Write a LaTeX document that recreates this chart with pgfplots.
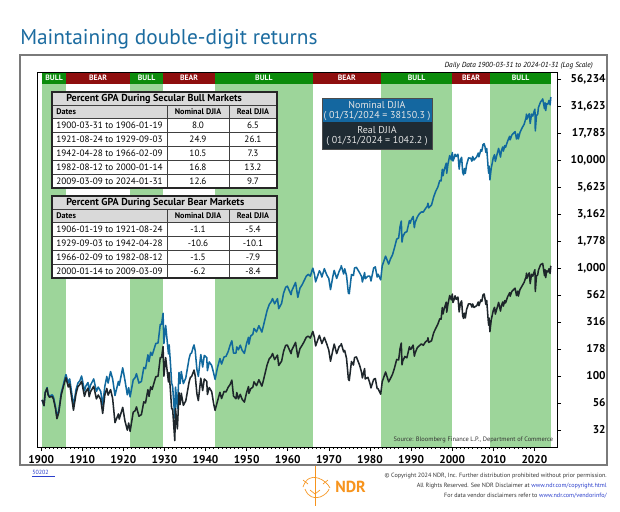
\documentclass[border=0pt]{standalone}
\usepackage{fontspec}
\setmainfont{PT Sans}
\usepackage{pgfplots}
\pgfplotsset{compat=1.18}
\usepackage{pgfplotstable}
\definecolor{titleblue}{HTML}{1C6CA0}
\definecolor{nomblue}{HTML}{11699E}
\definecolor{realblk}{HTML}{1E262B}
\definecolor{bandgreen}{HTML}{9DD59A}
\definecolor{stripgreen}{HTML}{0B8B0B}
\definecolor{stripred}{HTML}{8E0E0E}
\definecolor{legblue}{HTML}{1467A0}
\definecolor{legdark}{HTML}{1F2B33}
\definecolor{tblgray}{HTML}{D9D9D9}
\definecolor{framegray}{HTML}{7A7A7A}
\definecolor{ndrorange}{HTML}{F7941D}
\definecolor{linkblue}{HTML}{2B3FCC}

\pgfplotstableread{
year nom real
1900.25 60 60.2
1900.7 53 53.2
1901.0 70 70.2
1901.45 78 77.2
1901.7 68 67.0
1902.0 65 63.7
1902.7 67 64.6
1903.0 64 61.2
1903.5 52 49.8
1903.85 42 40.2
1904.3 48 45.9
1904.9 70 67.0
1905.3 80 76.6
1905.8 96 90.2
1906.05 103 96.3
1906.6 86 79.1
1906.95 94 84.4
1907.3 76 68.1
1907.87 53 48.2
1908.5 75 68.7
1908.95 86 79.6
1909.4 90 83.3
1909.85 100 89.3
1910.55 73 64.8
1910.9 81 71.8
1911.4 87 77.2
1911.7 73 64.3
1912.0 82 71.3
1912.8 94 80.4
1913.45 72 61.3
1913.9 79 66.7
1914.5 72 60.7
1914.98 54 45.0
1915.5 80 66.7
1915.98 99 76.7
1916.3 86 66.5
1916.9 110 74.8
1917.4 94 61.9
1917.97 66 37.0
1918.8 89 44.5
1919.0 82 39.9
1919.85 119 51.2
1920.4 91 38.3
1920.97 67 31.5
1921.3 78 36.7
1921.65 64 30.7
1922.4 92 46.1
1922.9 97 47.9
1923.2 105 51.8
1923.8 86 42.4
1924.4 89 43.9
1924.98 120 57.7
1925.4 117 56.3
1925.98 157 74.7
1926.25 136 64.7
1926.65 166 79.3
1927.0 155 75.0
1927.9 200 98.4
1928.45 202 99.6
1928.98 300 147.9
1929.3 300 147.9
1929.67 381 187.8
1929.87 199 99.5
1930.3 294 148.2
1930.98 160 88.0
1931.15 194 107.5
1931.5 125 69.3
1931.75 86 49.9
1932.0 80 49.2
1932.52 41 25.2
1932.7 79 49.8
1933.15 50 32.4
1933.55 108 70.0
1933.8 85 54.4
1934.1 110 69.2
1934.6 85 53.5
1935.2 96 59.0
1935.98 144 87.3
1936.3 160 97.0
1936.6 163 98.8
1936.98 184 107.6
1937.2 194 113.5
1937.5 170 99.5
1937.9 115 68.4
1938.25 99 59.2
1938.85 158 95.4
1939.3 121 73.3
1939.7 155 93.9
1940.3 148 89.1
1940.45 112 67.4
1940.9 135 78.3
1941.5 125 71.6
1941.98 106 55.1
1942.32 93 48.1
1942.9 119 58.3
1943.5 145 70.6
1943.9 129 61.9
1944.5 150 71.9
1944.98 152 71.1
1945.5 168 78.6
1945.98 193 83.4
1946.4 212 91.6
1946.8 163 65.2
1947.4 163 61.6
1947.6 186 70.3
1948.0 175 61.3
1948.45 193 67.6
1948.9 173 60.9
1949.45 162 57.3
1949.98 200 70.0
1950.45 228 79.8
1950.55 197 69.0
1950.98 235 76.1
1951.5 243 78.7
1951.8 276 88.3
1952.4 256 81.4
1952.98 292 92.3
1953.7 255 80.6
1953.98 281 88.0
1954.5 340 106.4
1954.98 404 126.9
1955.5 460 144.4
1955.98 488 151.3
1956.3 521 161.5
1956.8 466 142.1
1957.5 520 156.0
1957.8 420 125.2
1958.5 470 137.0
1958.98 584 169.1
1959.5 664 192.2
1959.9 679 193.5
1960.8 566 161.1
1960.98 616 173.6
1961.9 734 204.8
1962.45 535 149.3
1962.98 652 179.5
1963.5 700 192.7
1963.98 763 207.4
1964.5 840 228.3
1964.98 874 233.8
1965.5 840 224.7
1965.98 969 251.9
1966.11 995 258.7
1966.5 870 226.2
1966.78 744 189.7
1967.7 943 237.8
1967.98 905 219.1
1968.3 825 199.7
1968.9 985 227.5
1969.5 860 197.5
1969.98 800 173.7
1970.4 631 137.0
1970.98 838 174.3
1971.3 950 197.6
1971.9 800 161.3
1972.5 930 187.5
1972.98 1020 193.8
1973.02 1051 199.5
1973.6 880 167.0
1973.85 985 172.4
1974.3 850 145.3
1974.75 585 93.6
1974.96 578 90.7
1975.5 870 136.2
1975.98 852 126.2
1976.25 1000 148.1
1976.7 1014 150.2
1977.5 900 125.1
1977.98 830 107.2
1978.15 742 95.9
1978.7 907 117.2
1978.85 795 93.8
1979.5 840 97.4
1979.98 839 85.7
1980.25 759 77.6
1980.9 1000 93.0
1981.3 1024 94.9
1981.75 824 76.4
1981.98 875 76.4
1982.61 777 67.8
1982.98 1046 88.5
1983.8 1287 108.9
1984.55 1087 88.2
1984.98 1212 94.9
1985.5 1330 104.1
1985.98 1547 119.0
1986.5 1850 142.3
1986.98 1896 140.7
1987.3 2400 178.1
1987.62 2722 202.0
1987.8 1738 126.9
1987.98 1939 138.1
1988.5 2130 151.7
1988.98 2169 147.3
1989.6 2750 186.7
1989.8 2600 176.5
1989.98 2753 177.6
1990.5 2999 193.4
1990.8 2365 152.5
1990.98 2634 163.0
1991.5 2950 182.6
1991.98 3169 190.1
1992.5 3300 198.0
1992.98 3301 192.5
1993.5 3550 207.0
1993.98 3754 213.2
1994.1 3978 225.9
1994.3 3600 204.5
1994.98 3834 212.0
1995.5 4550 251.6
1995.98 5117 274.8
1996.5 5600 300.7
1996.98 6448 338.5
1997.3 6400 336.0
1997.6 8200 430.5
1997.8 7160 375.9
1997.98 7908 408.8
1998.55 9338 482.8
1998.67 7539 389.8
1998.98 9181 464.6
1999.4 11000 556.6
1999.8 10000 506.0
1999.98 11497 562.2
2000.04 11722 573.2
2000.2 9796 479.0
2000.5 10500 513.5
2000.7 11300 552.6
2000.98 10788 513.5
2001.4 11300 537.9
2001.7 8236 392.0
2001.98 10022 469.0
2002.3 10600 496.1
2002.55 7702 360.5
2002.78 7286 341.0
2002.98 8342 382.1
2003.2 7524 344.6
2003.5 9000 412.2
2003.98 10454 466.2
2004.5 10400 463.8
2004.8 9750 434.9
2004.98 10783 464.7
2005.3 10000 431.0
2005.98 10718 448.0
2006.35 11600 484.9
2006.5 10700 447.3
2006.98 12463 506.0
2007.2 12050 489.2
2007.5 13900 564.3
2007.78 14164 575.1
2007.98 13265 518.7
2008.2 11740 459.0
2008.4 12800 500.5
2008.75 8500 332.4
2008.88 7552 295.3
2008.98 8776 344.9
2009.18 6547 257.3
2009.5 8400 330.1
2009.98 10428 402.5
2010.3 11200 432.3
2010.5 9700 374.4
2010.98 11577 434.1
2011.3 12800 480.0
2011.75 10655 399.6
2011.98 12218 448.4
2012.3 13200 484.4
2012.45 12100 444.1
2012.8 13600 499.1
2012.98 13104 474.4
2013.5 15000 543.0
2013.98 16576 590.1
2014.1 15372 547.2
2014.5 17000 605.2
2014.98 17823 632.7
2015.3 18300 649.7
2015.65 15666 556.1
2015.98 17425 611.6
2016.1 15660 549.7
2016.5 18000 631.8
2016.98 19763 679.8
2017.5 21400 736.2
2017.98 24719 830.6
2018.07 26616 894.3
2018.15 23860 801.7
2018.75 26828 901.4
2018.98 21792 717.0
2019.3 26600 875.1
2019.6 25500 839.0
2019.98 28538 930.3
2020.13 29551 963.4
2020.22 18592 606.1
2020.5 25800 841.1
2020.8 26500 863.9
2020.98 30606 951.8
2021.5 34500 1073.0
2021.98 36338 1097.0
2022.02 36799 1104.0
2022.45 29888 850.6
2022.6 33900 964.8
2022.75 28725 814.9
2022.98 33147 940.4
2023.3 32900 917.9
2023.55 35600 983.3
2023.82 32417 889.5
2023.98 37690 1035.3
2024.08 38150 1042.2
}\djia

\begin{document}
\begin{tikzpicture}
\useasboundingbox (0,0) rectangle (465pt,-383.25pt);
\fill[white] (0,0) rectangle (465pt,-383.25pt);
\begin{scope}[x=0.75pt,y=-0.75pt]
\node[anchor=base west, inner sep=0, text=titleblue, font=\fontsize{16}{19}\selectfont] at (20,44) {Maintaining double-digit returns};
\draw[framegray, line width=0.9pt] (20,55) rectangle (607,465);
\node[anchor=base east, inner sep=0, font=\itshape\fontsize{5.5}{6}\selectfont] at (593,67) {Daily Data 1900-03-31 to 2024-01-31 (Log Scale)};
\end{scope}

\begin{axis}[
  at={(27.75pt,-335.25pt)}, anchor=south west,
  scale only axis, width=390pt, height=281.25pt,
  xmin=1899, xmax=2025.5,
  ymode=log, ymin=22.0, ymax=65300,
  axis on top,
  xtick={1900,1910,1920,1930,1940,1950,1960,1970,1980,1990,2000,2010,2020},
  xticklabels={1900,1910,1920,1930,1940,1950,1960,1970,1980,1990,2000,2010,2020},
  minor x tick num=9,
  xtick pos=bottom, ytick pos=right,
  tick align=outside,
  major tick length=3pt, minor tick length=1.5pt,
  ytick={31.623,56.234,100,177.83,316.23,562.34,1000,1778.3,3162.3,5623.4,10000,17783,31623,56234},
  yticklabels={32,56,100,178,316,562,{1,000},{1,778},{3,162},{5,623},{10,000},{17,783},{31,623},{56,234}},
  yminorticks=false,
  ticklabel style={font=\bfseries\fontsize{8.5}{9}\selectfont},
  yticklabel style={anchor=east, xshift=37pt},
  axis line style={line width=0.6pt},
  every tick/.style={black, line width=0.5pt},
]
% bull shading
\fill[bandgreen] (axis cs:1900.25,22) rectangle (axis cs:1906.05,50600);
\fill[bandgreen] (axis cs:1921.65,22) rectangle (axis cs:1929.67,50600);
\fill[bandgreen] (axis cs:1942.32,22) rectangle (axis cs:1966.11,50600);
\fill[bandgreen] (axis cs:1982.61,22) rectangle (axis cs:2000.04,50600);
\fill[bandgreen] (axis cs:2009.18,22) rectangle (axis cs:2024.08,50600);
% strip
\fill[stripgreen] (axis cs:1900.25,50600) rectangle (axis cs:1906.05,65300);
\fill[stripred] (axis cs:1906.05,50600) rectangle (axis cs:1921.65,65300);
\fill[stripgreen] (axis cs:1921.65,50600) rectangle (axis cs:1929.67,65300);
\fill[stripred] (axis cs:1929.67,50600) rectangle (axis cs:1942.32,65300);
\fill[stripgreen] (axis cs:1942.32,50600) rectangle (axis cs:1966.11,65300);
\fill[stripred] (axis cs:1966.11,50600) rectangle (axis cs:1982.61,65300);
\fill[stripgreen] (axis cs:1982.61,50600) rectangle (axis cs:2000.04,65300);
\fill[stripred] (axis cs:2000.04,50600) rectangle (axis cs:2009.18,65300);
\fill[stripgreen] (axis cs:2009.18,50600) rectangle (axis cs:2024.08,65300);
\begin{scope}[every node/.style={text=white, font=\bfseries\fontsize{5.8}{6}\selectfont, inner sep=0}]
\node at (axis cs:1903.15,57500) {BULL};
\node at (axis cs:1913.85,57500) {BEAR};
\node at (axis cs:1925.66,57500) {BULL};
\node at (axis cs:1936.0,57500) {BEAR};
\node at (axis cs:1954.2,57500) {BULL};
\node at (axis cs:1974.36,57500) {BEAR};
\node at (axis cs:1991.33,57500) {BULL};
\node at (axis cs:2004.61,57500) {BEAR};
\node at (axis cs:2016.63,57500) {BULL};
\end{scope}
\addplot[nomblue, line width=1.15pt, line join=round] table[x=year, y=nom] {\djia};
\addplot[realblk, line width=1.15pt, line join=round] table[x=year, y=real] {\djia};
\node[anchor=base east, inner sep=0, font=\fontsize{4.8}{5}\selectfont, text=black!80] at (axis cs:2024.6,24.5) {Source: Bloomberg Finance L.P., Department of Commerce};
\end{axis}

\begin{scope}[x=0.75pt,y=-0.75pt]
% Bull table
\fill[tblgray] (52,92) rectangle (277,118);
\fill[white] (52,118) rectangle (277,188);
\draw[black!75, line width=0.5pt] (52,105.5) -- (277,105.5);
\foreach \yy in {118,132,146,160,174} \draw[black!75, line width=0.5pt] (52,\yy) -- (277,\yy);
\draw[black!75, line width=0.5pt] (167,105.5) -- (167,188) (229,105.5) -- (229,188);
\draw[black!85, line width=1pt] (52,92) rectangle (277,188);
\node[anchor=west, inner sep=0, font=\bfseries\fontsize{7.6}{8}\selectfont] at (66,99) {Percent GPA During Secular Bull Markets};
\begin{scope}[every node/.style={inner sep=0, font=\bfseries\fontsize{6.1}{7}\selectfont}]
\node[anchor=west] at (56,112) {Dates};
\node at (198,112) {Nominal DJIA};
\node at (253,112) {Real DJIA};
\end{scope}
\begin{scope}[every node/.style={inner sep=0, font=\fontsize{6.9}{7}\selectfont}]
\node[anchor=west] at (56,125) {1900-03-31 to 1906-01-19}; \node at (198,125) {8.0}; \node at (253,125) {6.5};
\node[anchor=west] at (56,139) {1921-08-24 to 1929-09-03}; \node at (198,139) {24.9}; \node at (253,139) {26.1};
\node[anchor=west] at (56,153) {1942-04-28 to 1966-02-09}; \node at (198,153) {10.5}; \node at (253,153) {7.3};
\node[anchor=west] at (56,167) {1982-08-12 to 2000-01-14}; \node at (198,167) {16.8}; \node at (253,167) {13.2};
\node[anchor=west] at (56,181) {2009-03-09 to 2024-01-31}; \node at (198,181) {12.6}; \node at (253,181) {9.7};
\end{scope}
% Bear table
\fill[tblgray] (52,196) rectangle (277,222);
\fill[white] (52,222) rectangle (277,278);
\draw[black!75, line width=0.5pt] (52,209.5) -- (277,209.5);
\foreach \yy in {222,236,250,264} \draw[black!75, line width=0.5pt] (52,\yy) -- (277,\yy);
\draw[black!75, line width=0.5pt] (167,209.5) -- (167,278) (229,209.5) -- (229,278);
\draw[black!85, line width=1pt] (52,196) rectangle (277,278);
\node[anchor=west, inner sep=0, font=\bfseries\fontsize{7.6}{8}\selectfont] at (66,203) {Percent GPA During Secular Bear Markets};
\begin{scope}[every node/.style={inner sep=0, font=\bfseries\fontsize{6.1}{7}\selectfont}]
\node[anchor=west] at (56,216) {Dates};
\node at (198,216) {Nominal DJIA};
\node at (253,216) {Real DJIA};
\end{scope}
\begin{scope}[every node/.style={inner sep=0, font=\fontsize{6.9}{7}\selectfont}]
\node[anchor=west] at (56,229) {1906-01-19 to 1921-08-24}; \node at (198,229) {-1.1}; \node at (253,229) {-5.4};
\node[anchor=west] at (56,243) {1929-09-03 to 1942-04-28}; \node at (198,243) {-10.6}; \node at (253,243) {-10.1};
\node[anchor=west] at (56,257) {1966-02-09 to 1982-08-12}; \node at (198,257) {-1.5}; \node at (253,257) {-7.9};
\node[anchor=west] at (56,271) {2000-01-14 to 2009-03-09}; \node at (198,271) {-6.2}; \node at (253,271) {-8.4};
\end{scope}
% legend box
\fill[legblue] (322,98) rectangle (432,122);
\fill[legdark] (322,122) rectangle (432,149);
\draw[black!70, line width=0.6pt] (322,98) rectangle (432,149);
\begin{scope}[every node/.style={inner sep=0, text=white!90!black, font=\fontsize{7.5}{8}\selectfont}]
\node at (377,104.5) {Nominal DJIA};
\node at (377,116) {( 01/31/2024 = 38150.3 )};
\node at (377,130) {Real DJIA};
\node at (377,141.5) {( 01/31/2024 = 1042.2 )};
\end{scope}
% footer
\node[anchor=base west, inner sep=0, text=linkblue, font=\fontsize{4.5}{5}\selectfont] at (32,474) {\underline{50202\hphantom{00}}};
\begin{scope}[every node/.style={anchor=base east, inner sep=0, text=black!80, font=\fontsize{4.6}{5}\selectfont}]
\node at (607,477) {\textcopyright{} Copyright 2024 NDR, Inc. Further distribution prohibited without prior permission.};
\node at (607,487) {All Rights Reserved. See NDR Disclaimer at \textcolor{linkblue}{www.ndr.com/copyright.html}};
\node at (607,497) {For data vendor disclaimers refer to \textcolor{linkblue}{www.ndr.com/vendorinfo/}};
\end{scope}
\node[anchor=west, inner sep=0, text=ndrorange, font=\bfseries\fontsize{12}{13}\selectfont] at (335,487) {NDR};
\begin{scope}[ndrorange, line width=0.5pt]
\draw (315,466) -- (315,506);
\draw (303,487) .. controls (306,478) and (312,476) .. (318,478) .. controls (324,480) and (328,484) .. (330,488);
\draw (305,489) .. controls (308,497) and (314,499) .. (320,497) .. controls (325,495) and (328,492) .. (329,489);
\draw (303,480) -- (308,484) (328,480) -- (323,484) (310,490) -- (315,494) -- (320,490);
\end{scope}
\end{scope}
\end{tikzpicture}
\end{document}
